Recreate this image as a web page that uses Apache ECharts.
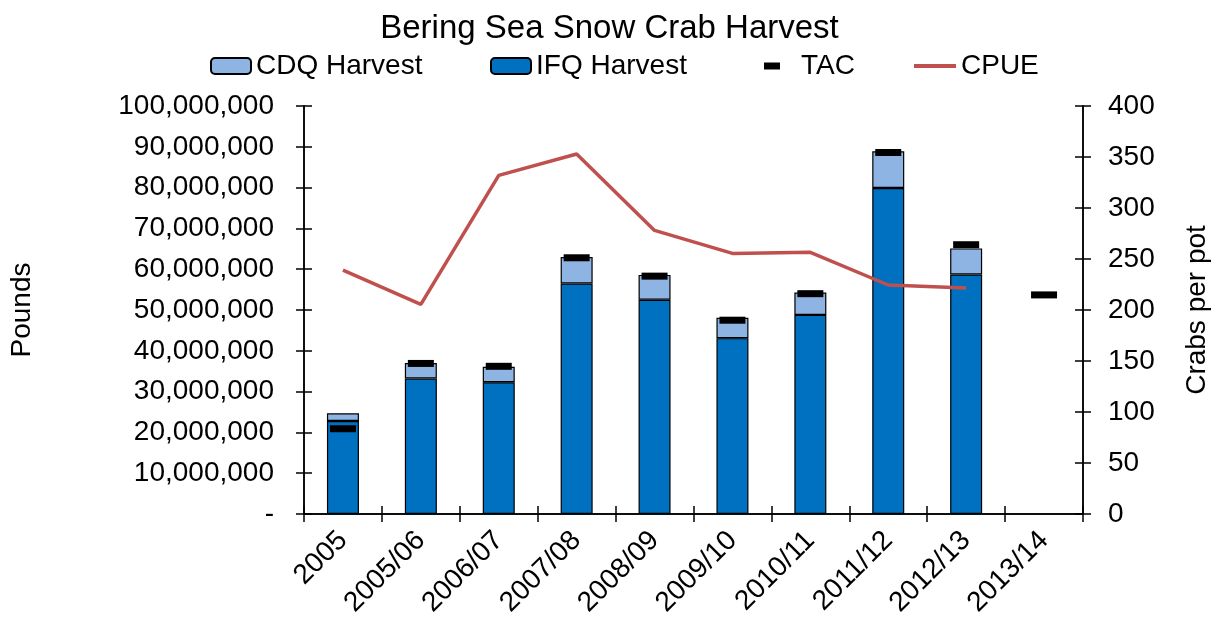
<!DOCTYPE html>
<html>
<head>
<meta charset="utf-8">
<script src="https://cdn.jsdelivr.net/npm/echarts@6/dist/echarts.min.js"></script>
<style>html,body{margin:0;padding:0;background:#fff}#c{width:1219px;height:624px}</style>
</head>
<body>
<div id="c"></div>
<script>
const categories = ['2005','2005/06','2006/07','2007/08','2008/09','2009/10','2010/11','2011/12','2012/13','2013/14'];
const ifqHarvest = [22800000, 33200000, 32300000, 56500000, 52500000, 43100000, 48800000, 79900000, 58700000, null];
const cdqHarvest = [1900000, 3800000, 3800000, 6500000, 6100000, 5000000, 5500000, 9000000, 6400000, null];
const tac = [20900000, 36900000, 36200000, 62800000, 58300000, 47500000, 54000000, 88600000, 66000000, 53700000];
const cpue = [239, 205.5, 332, 353, 278, 255.5, 256.5, 224.5, 221.5, null];
const leftTicks = [0, 100000000, 10000000];
const rightTicks = [0, 400, 50];

const FONT = '"Liberation Sans", Arial, sans-serif';
const chart = echarts.init(document.getElementById('c'), null, {renderer: 'canvas'});
const grid = {left: 303, right: 135, top: 106, bottom: 110, containLabel: false};
const txt = {color: '#000', fontFamily: FONT, fontSize: 28};
const axisLine = {show: true, onZero: false, lineStyle: {color: '#000', width: 1.5}};
const tickStyle = {color: '#000', width: 1.5};
const legendBase = {top: 52, textStyle: {color: '#000', fontFamily: FONT, fontSize: 28}, itemGap: 4, padding: 0};

chart.setOption({
  animation: false,
  backgroundColor: '#fff',
  title: {text: 'Bering Sea Snow Crab Harvest', left: 'center', top: 7,
          textStyle: {color: '#000', fontFamily: FONT, fontSize: 33, fontWeight: 'normal'}},
  legend: [
    Object.assign({}, legendBase, {left: 210, itemWidth: 40, itemHeight: 16, data: ['CDQ Harvest']}),
    Object.assign({}, legendBase, {left: 490, itemWidth: 40, itemHeight: 16, data: ['IFQ Harvest']}),
    Object.assign({}, legendBase, {left: 764, itemWidth: 16, itemHeight: 7,
      textStyle: Object.assign({}, legendBase.textStyle, {padding: [0, 0, 0, 16]}),
      data: [{name: 'TAC', icon: 'rect', itemStyle: {color: '#000', opacity: 1}}]}),
    Object.assign({}, legendBase, {left: 914, itemWidth: 42, itemHeight: 4,
      data: [{name: 'CPUE', icon: 'rect', itemStyle: {color: '#C0504D'}}]})
  ],
  grid: grid,
  xAxis: [
    {type: 'category', data: categories, boundaryGap: true, z: 10,
     axisLine: axisLine, axisTick: {show: true, inside: false, length: 8, lineStyle: tickStyle},
     axisLabel: Object.assign({}, txt, {rotate: 45, margin: 22, interval: 0}), splitLine: {show: false}},
    {type: 'category', data: categories, boundaryGap: true, position: 'bottom', offset: 0, z: 10,
     axisLine: axisLine, axisTick: {show: true, inside: true, length: 8, lineStyle: tickStyle},
     axisLabel: {show: false}, splitLine: {show: false}}
  ],
  yAxis: [
    {type: 'value', min: leftTicks[0], max: leftTicks[1], interval: leftTicks[2], position: 'left', z: 10,
     name: 'Pounds', nameLocation: 'middle', nameGap: 268, nameTextStyle: txt,
     axisLine: axisLine, axisTick: {show: true, inside: false, length: 8, lineStyle: tickStyle},
     axisLabel: Object.assign({}, txt, {margin: 30, formatter: v => v === 0 ? '-' : v.toLocaleString('en-US')}),
     splitLine: {show: false}},
    {type: 'value', min: rightTicks[0], max: rightTicks[1], interval: rightTicks[2], position: 'right', z: 10,
     name: 'Crabs per pot', nameLocation: 'middle', nameGap: 100, nameRotate: 90, nameTextStyle: txt,
     axisLine: axisLine, axisTick: {show: true, inside: false, length: 8, lineStyle: tickStyle},
     axisLabel: Object.assign({}, txt, {margin: 25}), splitLine: {show: false}},
    {type: 'value', min: leftTicks[0], max: leftTicks[1], interval: leftTicks[2], position: 'left', offset: 0, z: 10,
     axisLine: axisLine, axisTick: {show: true, inside: true, length: 8, lineStyle: tickStyle},
     axisLabel: {show: false}, splitLine: {show: false}},
    {type: 'value', min: rightTicks[0], max: rightTicks[1], interval: rightTicks[2], position: 'right', offset: 0, z: 10,
     axisLine: axisLine, axisTick: {show: true, inside: true, length: 8, lineStyle: tickStyle},
     axisLabel: {show: false}, splitLine: {show: false}}
  ],
  series: [
    {name: 'IFQ Harvest', type: 'bar', stack: 'h', data: ifqHarvest, barWidth: 32,
     itemStyle: {color: '#0070C0', borderColor: '#000', borderWidth: 1.2}, z: 2},
    {name: 'CDQ Harvest', type: 'bar', stack: 'h', data: cdqHarvest, barWidth: 32,
     itemStyle: {color: '#8EB4E3', borderColor: '#000', borderWidth: 1.2}, z: 2},
    {name: 'TAC', type: 'scatter', data: tac, symbol: 'rect', symbolSize: [26, 7],
     itemStyle: {color: '#000', opacity: 1}, z: 4},
    {name: 'CPUE', type: 'line', yAxisIndex: 1, data: cpue, showSymbol: false, symbol: 'none',
     lineStyle: {color: '#C0504D', width: 3.5}, itemStyle: {color: '#C0504D'}, z: 5}
  ]
});
</script>
</body>
</html>
